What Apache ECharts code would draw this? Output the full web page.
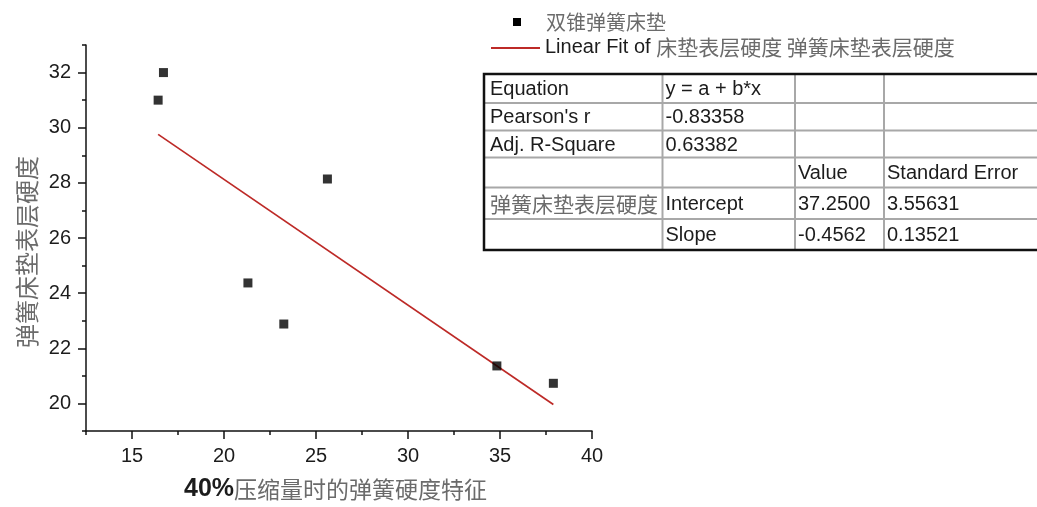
<!DOCTYPE html>
<html>
<head>
<meta charset="utf-8">
<script src="https://cdn.jsdelivr.net/npm/echarts@6/dist/echarts.min.js"></script>
<style>
  html, body { margin: 0; padding: 0; background: #fff; }
  #chart { width: 1037px; height: 507px; }
</style>
</head>
<body>
<div id="chart"></div>
<script>
// Measured samples: spring hardness at 40% compression (x) vs. mattress surface hardness (y)
const springHardness = [16.42, 16.71, 21.30, 23.25, 25.62, 34.83, 37.90];
const surfaceHardness = [31.00, 32.00, 24.37, 22.88, 28.14, 21.36, 20.73];

// Linear fit parameters (y = a + b*x)
const fitIntercept = 37.2500;
const fitSlope = -0.4562;

// Tick positions
const xMajorTicks = [15, 20, 25, 30, 35, 40];
const xMinorTicks = [12.5, 17.5, 22.5, 27.5, 32.5, 37.5];
const yMajorTicks = [20, 22, 24, 26, 28, 30, 32];
const yMinorTicks = [19, 21, 23, 25, 27, 29, 31, 33];

const scatterName = '双锥弹簧床垫';
const fitPrefix = 'Linear Fit of ';
const fitSubject = '床垫表层硬度 弹簧床垫表层硬度';
const xTitleNum = '40%';
const xTitleText = '压缩量时的弹簧硬度特征';
const yTitleText = '弹簧床垫表层硬度';

// Fit statistics table
const tableRows = [
  ['Equation', 'y = a + b*x', '', ''],
  ["Pearson's r", '-0.83358', '', ''],
  ['Adj. R-Square', '0.63382', '', ''],
  ['', '', 'Value', 'Standard Error'],
  ['弹簧床垫表层硬度', 'Intercept', '37.2500', '3.55631'],
  ['', 'Slope', '-0.4562', '0.13521']
];

const LATIN = '"Liberation Sans", Arial, sans-serif';
const CJK = '"Noto Sans CJK SC", sans-serif';
const CJK_COLOR = '#6b6b6b';
const INK = '#1c1c1c';
const FIT_COLOR = '#bd2a27';

const points = springHardness.map((x, i) => [x, surfaceHardness[i]]);
const xLo = Math.min(...springHardness);
const xHi = Math.max(...springHardness);
const fitLine = [xLo, xHi].map(x => [x, fitIntercept + fitSlope * x]);

// Table geometry
const colEdges = [484, 662.5, 795, 884, 1042];
const rowEdges = [74, 103, 130.5, 157.5, 187.5, 219, 250];
const isCJK = s => /[\u4e00-\u9fff]/.test(s);

const tableGraphics = [];
for (let r = 1; r < rowEdges.length - 1; r++) {
  tableGraphics.push({
    type: 'line', silent: true,
    shape: { x1: colEdges[0], y1: rowEdges[r], x2: colEdges[colEdges.length - 1], y2: rowEdges[r] },
    style: { stroke: '#a8a8a8', lineWidth: 2 }
  });
}
for (let c = 1; c < colEdges.length - 1; c++) {
  tableGraphics.push({
    type: 'line', silent: true,
    shape: { x1: colEdges[c], y1: rowEdges[0], x2: colEdges[c], y2: rowEdges[rowEdges.length - 1] },
    style: { stroke: '#a8a8a8', lineWidth: 2 }
  });
}
tableGraphics.push({
  type: 'rect', silent: true,
  shape: { x: colEdges[0], y: rowEdges[0], width: colEdges[colEdges.length - 1] - colEdges[0], height: rowEdges[rowEdges.length - 1] - rowEdges[0] },
  style: { fill: 'none', stroke: '#111', lineWidth: 2.5 }
});
tableRows.forEach((row, r) => {
  row.forEach((txt, c) => {
    if (!txt) return;
    const cjk = isCJK(txt);
    tableGraphics.push({
      type: 'text', silent: true,
      x: colEdges[c] + (c === 0 ? 6 : 3),
      y: (rowEdges[r] + rowEdges[r + 1]) / 2 + 1,
      style: {
        text: txt,
        fontFamily: cjk ? CJK : LATIN,
        fontSize: cjk ? 21 : 20,
        fill: cjk ? CJK_COLOR : INK,
        align: 'left',
        verticalAlign: 'middle'
      }
    });
  });
});

// Legend: square marker for the samples, red stroke for the fit
const legendGraphics = [
  {
    type: 'rect', silent: true,
    shape: { x: 513, y: 18, width: 8, height: 8 },
    style: { fill: '#000' }
  },
  {
    type: 'text', silent: true, x: 546, y: 22,
    style: { text: scatterName, fontFamily: CJK, fontSize: 20, fill: CJK_COLOR, verticalAlign: 'middle' }
  },
  {
    type: 'line', silent: true,
    shape: { x1: 491, y1: 48, x2: 540, y2: 48 },
    style: { stroke: FIT_COLOR, lineWidth: 1.8 }
  },
  {
    type: 'text', silent: true, x: 545, y: 47,
    style: {
      text: '{e|' + fitPrefix + '}{c|' + fitSubject + '}',
      verticalAlign: 'middle',
      rich: {
        e: { fontFamily: LATIN, fontSize: 20, fill: INK, color: INK },
        c: { fontFamily: CJK, fontSize: 21, fill: CJK_COLOR, color: CJK_COLOR }
      }
    }
  }
];

const axisInk = { color: '#111', width: 1.5 };

const option = {
  backgroundColor: '#fff',
  animation: false,
  grid: { left: 86, right: 445, top: 45, bottom: 73, containLabel: false },
  xAxis: [
    {
      type: 'value', min: 12.5, max: 40,
      name: '{n|' + xTitleNum + '}{c|' + xTitleText + '}',
      nameLocation: 'middle',
      nameGap: 46,
      nameTextStyle: {
        padding: [0, 7, 0, 0],
        rich: {
          n: { fontFamily: LATIN, fontWeight: 'bold', fontSize: 25, color: INK },
          c: { fontFamily: CJK, fontSize: 23, color: CJK_COLOR }
        }
      },
      axisLine: { lineStyle: axisInk },
      axisTick: { customValues: xMajorTicks, length: 8, lineStyle: axisInk },
      axisLabel: { customValues: xMajorTicks, fontFamily: LATIN, fontSize: 20, color: INK, margin: 15 },
      splitLine: { show: false }
    },
    {
      type: 'value', min: 12.5, max: 40, position: 'bottom',
      axisLine: { show: false },
      axisTick: { customValues: xMinorTicks, length: 4, lineStyle: axisInk },
      axisLabel: { show: false },
      splitLine: { show: false }
    }
  ],
  yAxis: [
    {
      type: 'value', min: 19, max: 33,
      axisLine: { lineStyle: axisInk },
      axisTick: { customValues: yMajorTicks, length: 8, lineStyle: axisInk },
      axisLabel: { customValues: yMajorTicks, fontFamily: LATIN, fontSize: 20, color: INK, margin: 15 },
      splitLine: { show: false }
    },
    {
      type: 'value', min: 19, max: 33, position: 'left',
      axisLine: { show: false },
      axisTick: { customValues: yMinorTicks, length: 4, lineStyle: axisInk },
      axisLabel: { show: false },
      splitLine: { show: false }
    }
  ],
  series: [
    {
      name: scatterName,
      type: 'scatter',
      symbol: 'rect',
      symbolSize: 9,
      itemStyle: { color: '#000' },
      data: points,
      z: 3
    },
    {
      name: fitPrefix + fitSubject,
      type: 'line',
      symbol: 'none',
      lineStyle: { color: FIT_COLOR, width: 1.7 },
      data: fitLine,
      z: 2
    }
  ],
  graphic: [
    {
      type: 'text', silent: true,
      x: 27, y: 252, rotation: Math.PI / 2,
      style: {
        text: yTitleText, fontFamily: CJK, fontSize: 24, fill: CJK_COLOR,
        align: 'center', verticalAlign: 'middle'
      }
    },
    { type: 'group', children: legendGraphics },
    { type: 'group', children: tableGraphics }
  ]
};

const chart = echarts.init(document.getElementById('chart'), null, { renderer: 'canvas' });
chart.setOption(option);
</script>
</body>
</html>
